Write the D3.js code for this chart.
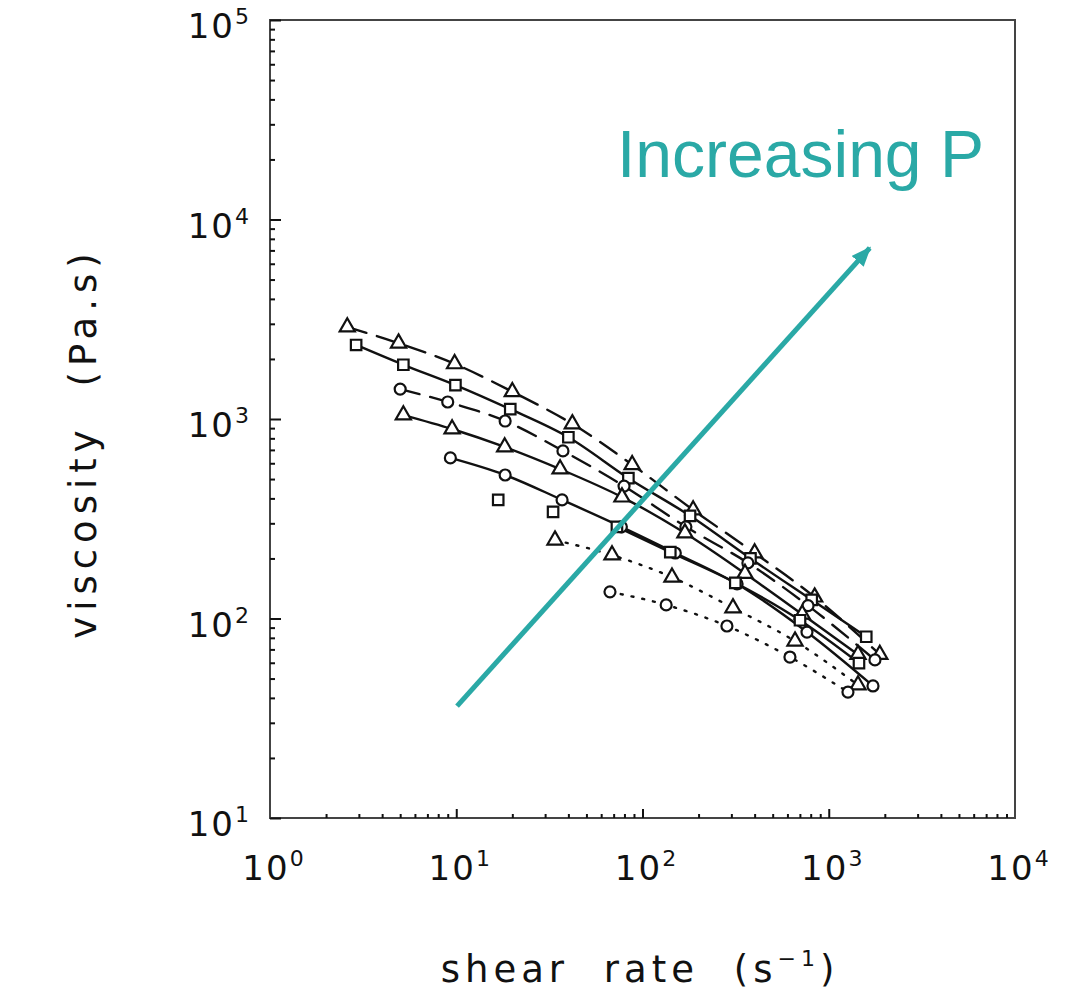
<!DOCTYPE html>
<html>
<head>
<meta charset="utf-8">
<script src="https://cdn.jsdelivr.net/npm/d3@7"></script>
<style>
  body { margin: 0; background: #fff; }
  text { font-family: "DejaVu Sans", sans-serif; fill: #111; }
</style>
</head>
<body>
<svg id="chart" width="1068" height="991"></svg>
<script>
// shear rate (1/s) vs viscosity (Pa.s)
const rateA = [2.6, 4.9, 9.8, 20, 42, 88, 187, 400, 840, 1880];
const viscA = [2890, 2400, 1890, 1370, 945, 590, 350, 213, 128, 66];
const rateB = [2.9, 5.2, 9.9, 19.5, 40, 84, 180, 380, 810, 1590];
const viscB = [2350, 1870, 1480, 1120, 810, 505, 327, 200, 124, 81];
const rateC = [5.0, 9.0, 18.3, 37.4, 79.6, 171, 368, 774, 1770];
const viscC = [1413, 1217, 977, 692, 461, 288, 190, 116, 62];
const rateD = [5.2, 9.5, 18.2, 36.1, 77.6, 169, 355, 720, 1436];
const viscD = [1047, 891, 724, 561, 406, 268, 168, 105, 66];
const rateE = [9.3, 18.3, 37, 77, 150, 322, 764, 1728];
const viscE = [638, 524, 393, 288, 213, 149, 85.5, 45.9];
const rateF = [16.8, 33.1, 72.9, 141, 315, 701, 1453];
const viscF = [393, 342, 288, 215, 151, 98, 59.8];
const rateG = [33.9, 68.6, 144, 306, 659, 1436];
const viscG = [247, 208, 161, 113, 77, 46.4];
const rateH = [66.9, 134, 284, 619, 1268];
const viscH = [136, 117, 91.7, 64.1, 42.8];

// symbol, line style, index of the first point the fitted line starts at
const series = [
  {rate: rateA, visc: viscA, sym: "tri", dash: "dash", from: 0},
  {rate: rateB, visc: viscB, sym: "sq", dash: "solid", from: 0},
  {rate: rateC, visc: viscC, sym: "circ", dash: "dash", from: 0},
  {rate: rateD, visc: viscD, sym: "tri", dash: "solid", from: 0},
  {rate: rateE, visc: viscE, sym: "circ", dash: "solid", from: 0},
  {rate: rateF, visc: viscF, sym: "sq", dash: "solid", from: 2},
  {rate: rateG, visc: viscG, sym: "tri", dash: "dot", from: 0},
  {rate: rateH, visc: viscH, sym: "circ", dash: "dot", from: 0}
];

const xMajor = [1, 10, 100, 1000, 10000];
const yMajor = [10, 100, 1000, 10000, 100000];

const teal = "#2aa9a6";

const svg = d3.select("#chart");
const m = {left: 270, right: 1015, top: 20, bottom: 818};

const x = d3.scaleLog().domain([1, 1e4]).range([m.left, m.right]);
const y = d3.scaleLog().domain([10, 1e5]).range([m.bottom, m.top]);

// minor ticks 2..9 in every decade
const minors = dom => d3.range(Math.log10(dom[0]), Math.log10(dom[1]))
  .flatMap(e => d3.range(2, 10).map(k => k * Math.pow(10, e)));

// frame
svg.append("rect")
  .attr("x", m.left).attr("y", m.top)
  .attr("width", m.right - m.left).attr("height", m.bottom - m.top)
  .attr("fill", "none").attr("stroke", "#444").attr("stroke-width", 2);

// ticks point into the plot
const tickStyle = g => {
  g.select(".domain").remove();
  g.selectAll(".tick line").attr("stroke", "#111").attr("stroke-width", 2);
};
svg.append("g").attr("transform", `translate(${m.left},0)`)
  .call(d3.axisLeft(y).tickValues(yMajor).tickSize(-11).tickFormat(""))
  .call(tickStyle);
svg.append("g").attr("transform", `translate(${m.left},0)`)
  .call(d3.axisLeft(y).tickValues(minors(y.domain())).tickSize(-5).tickFormat(""))
  .call(tickStyle);
svg.append("g").attr("transform", `translate(0,${m.bottom})`)
  .call(d3.axisBottom(x).tickValues(xMajor.slice(1, -1)).tickSize(-9).tickFormat(""))
  .call(tickStyle);
svg.append("g").attr("transform", `translate(0,${m.bottom})`)
  .call(d3.axisBottom(x).tickValues(minors(x.domain())).tickSize(-4).tickFormat(""))
  .call(tickStyle);

// power-of-ten labels
const powLabel = (sel, v) => {
  sel.append("tspan").attr("font-size", 34).text("10");
  sel.append("tspan").attr("font-size", 22).attr("dy", -14).text(Math.round(Math.log10(v)));
};
svg.append("g").selectAll("text").data(yMajor).join("text")
  .attr("x", m.left - 19).attr("y", d => y(d) + 18)
  .attr("text-anchor", "end").attr("letter-spacing", 2)
  .each(function(d) { powLabel(d3.select(this), d); });
svg.append("g").selectAll("text").data(xMajor).join("text")
  .attr("x", d => x(d) + 4).attr("y", m.bottom + 62)
  .attr("text-anchor", "middle").attr("letter-spacing", 2)
  .each(function(d) { powLabel(d3.select(this), d); });

// axis titles
svg.append("text")
  .attr("transform", `translate(96,${(m.top + m.bottom) / 2 + 24}) rotate(-90)`)
  .attr("text-anchor", "middle").attr("font-size", 37)
  .attr("letter-spacing", 6).attr("word-spacing", 20)
  .text("viscosity (Pa.s)");
const xt = svg.append("text")
  .attr("x", 640).attr("y", 982)
  .attr("text-anchor", "middle").attr("font-size", 37)
  .attr("letter-spacing", 5).attr("word-spacing", 18);
xt.append("tspan").text("shear rate (s");
xt.append("tspan").attr("font-size", 22).attr("dy", -16).text("\u22121");
xt.append("tspan").attr("dy", 16).text(")");

// fitted curves
const line = d3.line().x(d => x(d[0])).y(d => y(d[1])).curve(d3.curveMonotoneX);
const dashes = {solid: null, dash: "20,11", dot: "2,9"};
svg.append("g").selectAll("path").data(series).join("path")
  .attr("d", s => line(s.rate.map((r, i) => [r, s.visc[i]]).slice(s.from)))
  .attr("fill", "none").attr("stroke", "#111").attr("stroke-width", 2.4)
  .attr("stroke-linecap", "round")
  .attr("stroke-dasharray", s => dashes[s.dash]);

// markers
const symType = {tri: d3.symbolTriangle, sq: d3.symbolSquare, circ: d3.symbolCircle};
const symSize = {tri: 100, sq: 110, circ: 95};
series.forEach(s => {
  svg.append("g").selectAll("path")
    .data(s.rate.map((r, i) => [r, s.visc[i]]))
    .join("path")
    .attr("transform", d => `translate(${x(d[0])},${y(d[1])})`)
    .attr("d", d3.symbol(symType[s.sym], symSize[s.sym]))
    .attr("fill", "#fff").attr("stroke", "#111").attr("stroke-width", 2.2);
});

// annotation arrow
const arrowFrom = [10.1, 36.4], arrowTo = [1660, 7200];
svg.append("defs").append("marker")
  .attr("id", "head").attr("markerUnits", "userSpaceOnUse")
  .attr("viewBox", "0 0 20 16").attr("refX", 18).attr("refY", 8)
  .attr("markerWidth", 20).attr("markerHeight", 16).attr("orient", "auto")
  .append("path").attr("d", "M0,0 L20,8 L0,16 Z").attr("fill", teal);
svg.append("line")
  .attr("x1", x(arrowFrom[0])).attr("y1", y(arrowFrom[1]))
  .attr("x2", x(arrowTo[0])).attr("y2", y(arrowTo[1]))
  .attr("stroke", teal).attr("stroke-width", 5)
  .attr("marker-end", "url(#head)");

svg.append("text")
  .attr("x", x(73)).attr("y", y(16330))
  .style("font-family", "'Liberation Sans', Arial, sans-serif")
  .style("font-size", "66px").style("fill", teal)
  .text("Increasing P");
</script>
</body>
</html>
